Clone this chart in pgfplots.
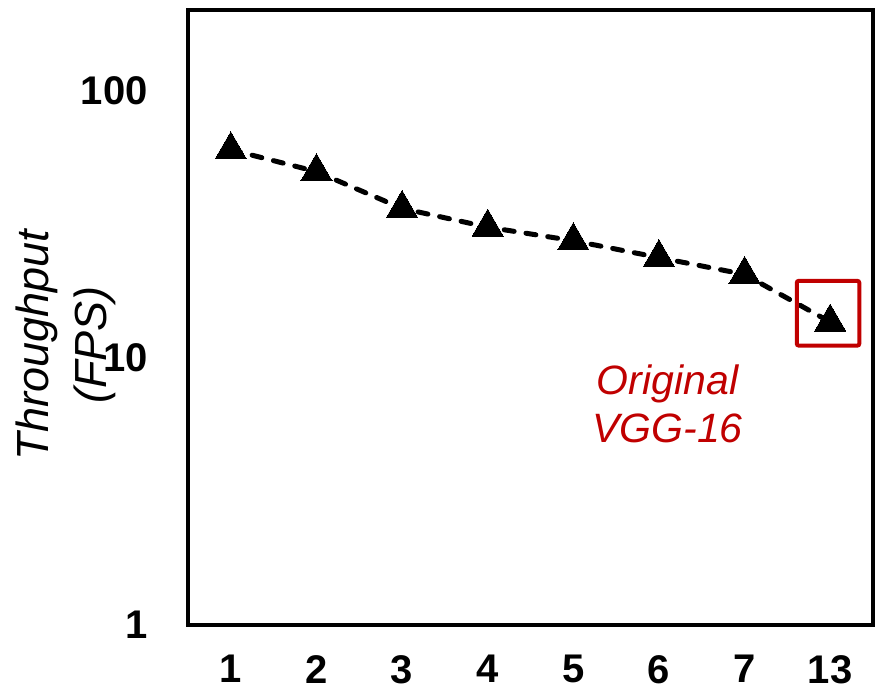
\documentclass[border=0pt]{standalone}
\usepackage{pgfplots}
\pgfplotsset{compat=1.18}
\usepackage{fontspec}
\setmainfont{Liberation Sans}
\definecolor{DarkRed}{HTML}{C00000}

\begin{document}
\begin{tikzpicture}
\useasboundingbox (-94pt,-33.5pt) rectangle (346.5pt,312.5pt);
\begin{axis}[
  scale only axis, width=342.5pt, height=307.5pt,
  ymode=log, ymin=1, ymax=200,
  xmin=0.5, xmax=8.5,
  xtick={1,2,3,4,5,6,7,8},
  xticklabels={1,2,3,4,5,6,7,13},
  ytick={1,10,100},
  yticklabels={1,10,100},
  major tick length=0pt, minor tick length=0pt,
  axis line style={line width=2pt, black},
  tick label style={font=\fontsize{20}{24}\selectfont\bfseries},
  yticklabel style={anchor=east, inner sep=0pt, xshift=-20pt},
  xticklabel style={anchor=north, inner sep=0pt, yshift=-15pt},
  ylabel={Throughput\\(FPS)},
  ylabel style={at={(rel axis cs:-0.178,0.455)}, anchor=center, align=center,
    font=\fontsize{22.5}{29}\selectfont\itshape},
  clip=false,
]
\addplot[black, line width=2.5pt, line cap=round, dash pattern=on 5pt off 6pt,
  mark=triangle*, mark size=9pt, mark options={solid, fill=black, draw=black, line width=0pt}]
  coordinates {(1,60) (2,49.7) (3,36.2) (4,30.8) (5,27.4) (6,23.7) (7,20.5) (8,13.6)};
\draw[DarkRed, line width=2pt, rounded corners=1pt] (axis cs:7.61,11.1) rectangle (axis cs:8.34,19.4);
\node[DarkRed, align=center, font=\fontsize{20.5}{24}\selectfont\itshape]
  at (axis cs:6.1,6.7) {Original\\VGG-16};
\end{axis}
\end{tikzpicture}
\end{document}
